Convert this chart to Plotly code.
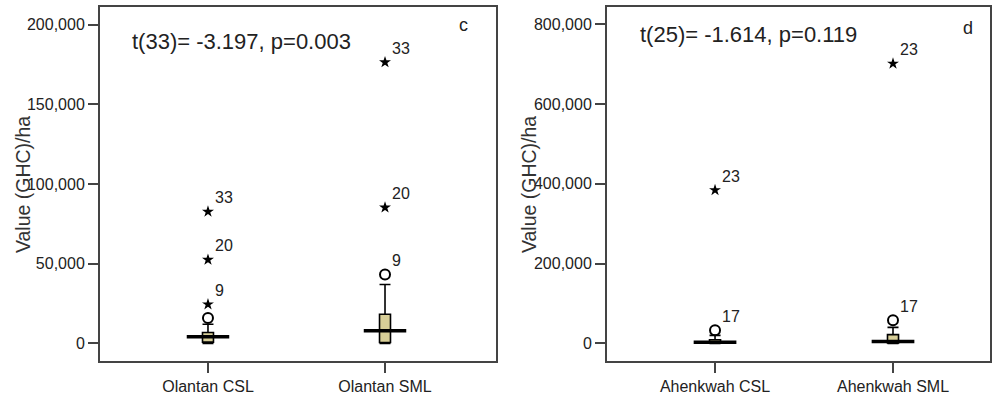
import plotly.graph_objects as go

# ---------------- data ----------------
left_cats = ["Olantan CSL", "Olantan SML"]
left_q1 = [800, 600]
left_median = [4200, 7900]
left_q3 = [6800, 18300]
left_lower = [0, 0]
left_upper = [12000, 37000]
left_circle_x = [0, 1]
left_circle_y = [16000, 43200]
left_circle_lab = ["", "9"]
left_star_x = [0, 0, 0, 1, 1]
left_star_y = [24500, 52500, 82700, 85300, 176500]
left_star_lab = ["9", "20", "33", "20", "33"]
left_stat = "t(33)= -3.197, p=0.003"
left_letter = "c"
left_ticks = [0, 50000, 100000, 150000, 200000]

right_cats = ["Ahenkwah CSL", "Ahenkwah SML"]
right_q1 = [500, 800]
right_median = [2500, 4500]
right_q3 = [9000, 22000]
right_lower = [0, 0]
right_upper = [20000, 40000]
right_circle_x = [0, 1]
right_circle_y = [33000, 58000]
right_circle_lab = ["17", "17"]
right_star_x = [0, 1]
right_star_y = [384000, 701000]
right_star_lab = ["23", "23"]
right_stat = "t(25)= -1.614, p=0.119"
right_letter = "d"
right_ticks = [0, 200000, 400000, 600000, 800000]

y_title = "Value (GHC)/ha"

FONT = "Arial, 'Liberation Sans', sans-serif"
BOXFILL = "#d8cf98"
W, H = 992, 395

fig = go.Figure()
annotations = []


def add_panel(xa, ya, q1, med, q3, lo, up, cx, cy, clab, sx, sy, slab):
    for i in range(len(q1)):
        fig.add_trace(go.Box(
            x=[i], q1=[q1[i]], median=[med[i]], q3=[q3[i]],
            lowerfence=[lo[i]], upperfence=[up[i]],
            width=0.062, whiskerwidth=1, boxpoints=False,
            fillcolor=BOXFILL, line=dict(color="black", width=1.6),
            xaxis=xa, yaxis=ya, showlegend=False, hoverinfo="skip"))
        fig.add_trace(go.Scatter(
            x=[i - 0.12, i + 0.12], y=[med[i], med[i]], mode="lines",
            line=dict(color="black", width=3.5),
            xaxis=xa, yaxis=ya, showlegend=False, hoverinfo="skip"))
    fig.add_trace(go.Scatter(
        x=cx, y=cy, mode="markers",
        marker=dict(symbol="circle-open", size=10, color="black", line=dict(width=2)),
        xaxis=xa, yaxis=ya, showlegend=False, hoverinfo="skip"))
    fig.add_trace(go.Scatter(
        x=sx, y=sy, mode="markers",
        marker=dict(symbol="star", size=9, color="black", line=dict(width=0)),
        xaxis=xa, yaxis=ya, showlegend=False, hoverinfo="skip"))
    for xv, yv, t in list(zip(cx, cy, clab)) + list(zip(sx, sy, slab)):
        if t:
            annotations.append(dict(
                x=xv, y=yv, xref=xa, yref=ya, text=t, showarrow=False,
                xanchor="left", yanchor="middle", xshift=5, yshift=14,
                font=dict(family=FONT, size=16, color="#222")))


add_panel("x", "y", left_q1, left_median, left_q3, left_lower, left_upper,
          left_circle_x, left_circle_y, left_circle_lab,
          left_star_x, left_star_y, left_star_lab)
add_panel("x2", "y2", right_q1, right_median, right_q3, right_lower, right_upper,
          right_circle_x, right_circle_y, right_circle_lab,
          right_star_x, right_star_y, right_star_lab)


def px_x(p):
    return p / W


def px_y(p):
    return 1 - p / H


# stats text, panel letters, y titles
annotations += [
    dict(x=px_x(130), y=px_y(42), xref="paper", yref="paper", text=left_stat,
         showarrow=False, xanchor="left", yanchor="middle",
         font=dict(family=FONT, size=22, color="#222")),
    dict(x=px_x(463), y=px_y(25), xref="paper", yref="paper", text=left_letter,
         showarrow=False, xanchor="center", yanchor="middle",
         font=dict(family=FONT, size=18, color="#222")),
    dict(x=px_x(638), y=px_y(35), xref="paper", yref="paper", text=right_stat,
         showarrow=False, xanchor="left", yanchor="middle",
         font=dict(family=FONT, size=22, color="#222")),
    dict(x=px_x(968), y=px_y(28), xref="paper", yref="paper", text=right_letter,
         showarrow=False, xanchor="center", yanchor="middle",
         font=dict(family=FONT, size=18, color="#222")),
    dict(x=px_x(22.5), y=px_y(186), xref="paper", yref="paper", text=y_title,
         showarrow=False, textangle=-90, xanchor="center", yanchor="middle",
         font=dict(family=FONT, size=19.5, color="#333")),
    dict(x=px_x(528.5), y=px_y(186), xref="paper", yref="paper", text=y_title,
         showarrow=False, textangle=-90, xanchor="center", yanchor="middle",
         font=dict(family=FONT, size=19.5, color="#333")),
]

axis_common = dict(showline=True, mirror=True, linecolor="#444", linewidth=2,
                   ticks="outside", ticklen=10, tickwidth=2, tickcolor="#444",
                   showgrid=False, zeroline=False,
                   tickfont=dict(family=FONT, size=16, color="#222"))

fig.update_layout(
    width=W, height=H,
    margin=dict(l=0, r=0, t=0, b=0),
    paper_bgcolor="white", plot_bgcolor="white",
    showlegend=False,
    xaxis=dict(domain=[px_x(100), px_x(496)], range=[-0.61, 1.627],
               tickvals=[0, 1], ticktext=left_cats, anchor="y", **axis_common),
    yaxis=dict(domain=[px_y(364), px_y(7)], range=[-11200, 211200],
               tickvals=left_ticks, tickformat=",d", anchor="x", **axis_common),
    xaxis2=dict(domain=[px_x(607), px_x(990)], range=[-0.607, 1.545],
                tickvals=[0, 1], ticktext=right_cats, anchor="y2", **axis_common),
    yaxis2=dict(domain=[px_y(364), px_y(7)], range=[-44800, 843000],
                tickvals=right_ticks, tickformat=",d", anchor="x2", **axis_common),
    annotations=annotations,
)

fig.write_html("out.html", config={"displayModeBar": False},
               post_script="document.body.style.margin='0';document.body.style.overflow='hidden';")
